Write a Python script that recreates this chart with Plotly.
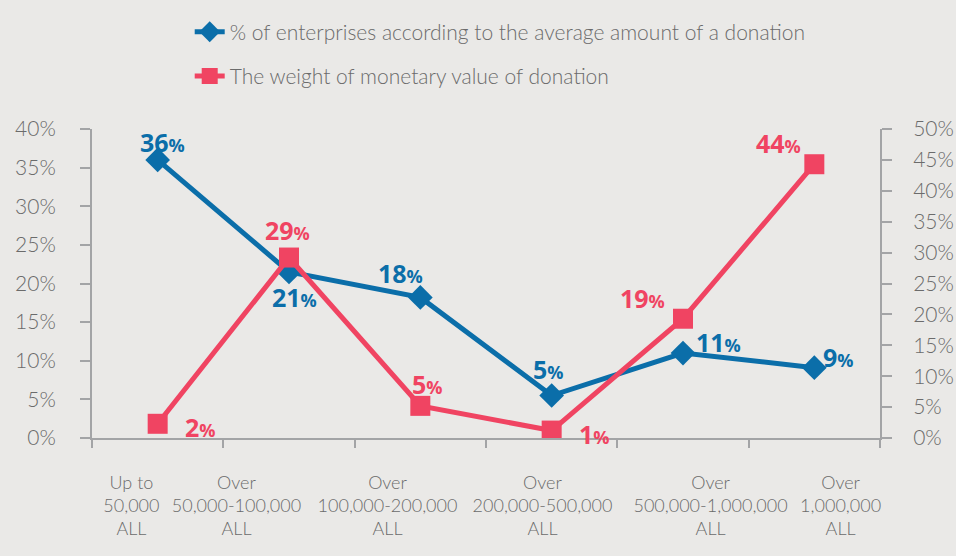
import plotly.graph_objects as go

categories = ["Up to<br>50,000<br>ALL", "Over<br>50,000-100,000<br>ALL", "Over<br>100,000-200,000<br>ALL",
              "Over<br>200,000-500,000<br>ALL", "Over<br>500,000-1,000,000<br>ALL", "Over<br>1,000,000<br>ALL"]
share_enterprises = [36.0, 21.5, 18.2, 5.5, 11.0, 9.1]
weight_value = [2.3, 29.2, 5.2, 1.2, 19.3, 44.3]
share_labels = [36, 21, 18, 5, 11, 9]
weight_labels = [2, 29, 5, 1, 19, 44]
left_ticks = list(range(0, 41, 5))
right_ticks = list(range(0, 51, 5))

BLUE = "#0b6ea9"
RED = "#f04462"
BG = "#eae9e7"
AXIS = "#a3a4a6"
TXT = "#6b6b6b"

xpos = [i + 0.5 for i in range(len(categories))]
label_pos = [0.30, 1.10, 2.25, 3.43, 4.71, 5.70]

fig = go.Figure()
fig.add_trace(go.Scatter(
    x=xpos, y=share_enterprises, mode="lines+markers",
    name="% of enterprises according to the average amount of a donation",
    line=dict(color=BLUE, width=5), marker=dict(symbol="diamond", size=19, color=BLUE),
    legendgroup="a", yaxis="y"))
fig.add_trace(go.Scatter(
    x=xpos, y=weight_value, mode="lines+markers",
    name="The weight of monetary value of donation",
    line=dict(color=RED, width=5), marker=dict(symbol="square", size=20, color=RED),
    legendgroup="b", yaxis="y2"))

blue_shift = [(5, 18), (5, -25), (-20, 24), (-3, 27), (35, 11), (24, 11)]
red_shift = [(43, -3), (-2, 28), (7, 22), (43, -3), (-41, 21), (-36, 21)]

ann = []
def lab(v):
    return f"<b>{v}<span style='font-size:18px'>%</span></b>"
for i, (x, y) in enumerate(zip(xpos, share_enterprises)):
    ann.append(dict(x=x, y=y, xref="x", yref="y", text=lab(share_labels[i]), showarrow=False,
                    xshift=blue_shift[i][0], yshift=blue_shift[i][1],
                    font=dict(family="Open Sans", size=25, color=BLUE)))
for i, (x, y) in enumerate(zip(xpos, weight_value)):
    ann.append(dict(x=x, y=y, xref="x", yref="y2", text=lab(weight_labels[i]), showarrow=False,
                    xshift=red_shift[i][0], yshift=red_shift[i][1],
                    font=dict(family="Open Sans", size=25, color=RED)))

fig.update_layout(
    width=956, height=556,
    margin=dict(l=92, r=76, t=129, b=118, autoexpand=False),
    paper_bgcolor=BG, plot_bgcolor=BG,
    font=dict(family="Lato", color=TXT, weight=300),
    showlegend=True,
    legend=dict(x=0.124, y=1.38, xanchor="left", yanchor="top", bgcolor="rgba(0,0,0,0)",
                font=dict(size=21, color=TXT, family="Lato", weight=300), tracegroupgap=14),
    xaxis=dict(range=[0, 6], showgrid=False, zeroline=False, showline=True, linecolor=AXIS, linewidth=2,
               automargin=False,
               tickvals=label_pos, ticktext=categories, ticks="", ticklabelstandoff=27,
               tickfont=dict(size=18, color=TXT, family="Lato", weight=300),
               minor=dict(tickvals=list(range(0, 7)), ticks="outside", ticklen=8, tickwidth=2, tickcolor=AXIS)),
    yaxis=dict(range=[0, 40], tickvals=left_ticks, ticktext=[f"{t}%" for t in left_ticks],
               showgrid=False, zeroline=False, showline=True, linecolor=AXIS, linewidth=2, automargin=False,
               ticks="outside", ticklen=10, tickwidth=2, tickcolor=AXIS, ticklabelstandoff=20,
               tickfont=dict(size=21, color=TXT, family="Lato", weight=300)),
    yaxis2=dict(range=[0, 50], tickvals=right_ticks, ticktext=[f"{t}%" for t in right_ticks],
                overlaying="y", side="right", showgrid=False, zeroline=False, showline=True, automargin=False,
                linecolor=AXIS, linewidth=2, ticks="outside", ticklen=10, tickwidth=2, tickcolor=AXIS,
                ticklabelstandoff=17, tickfont=dict(size=21, color=TXT, family="Lato", weight=300)),
    annotations=ann,
)
fig.write_html("out.html", config={"displayModeBar": False},
               post_script="document.body.style.margin='0';document.body.style.background='%s';" % BG)
